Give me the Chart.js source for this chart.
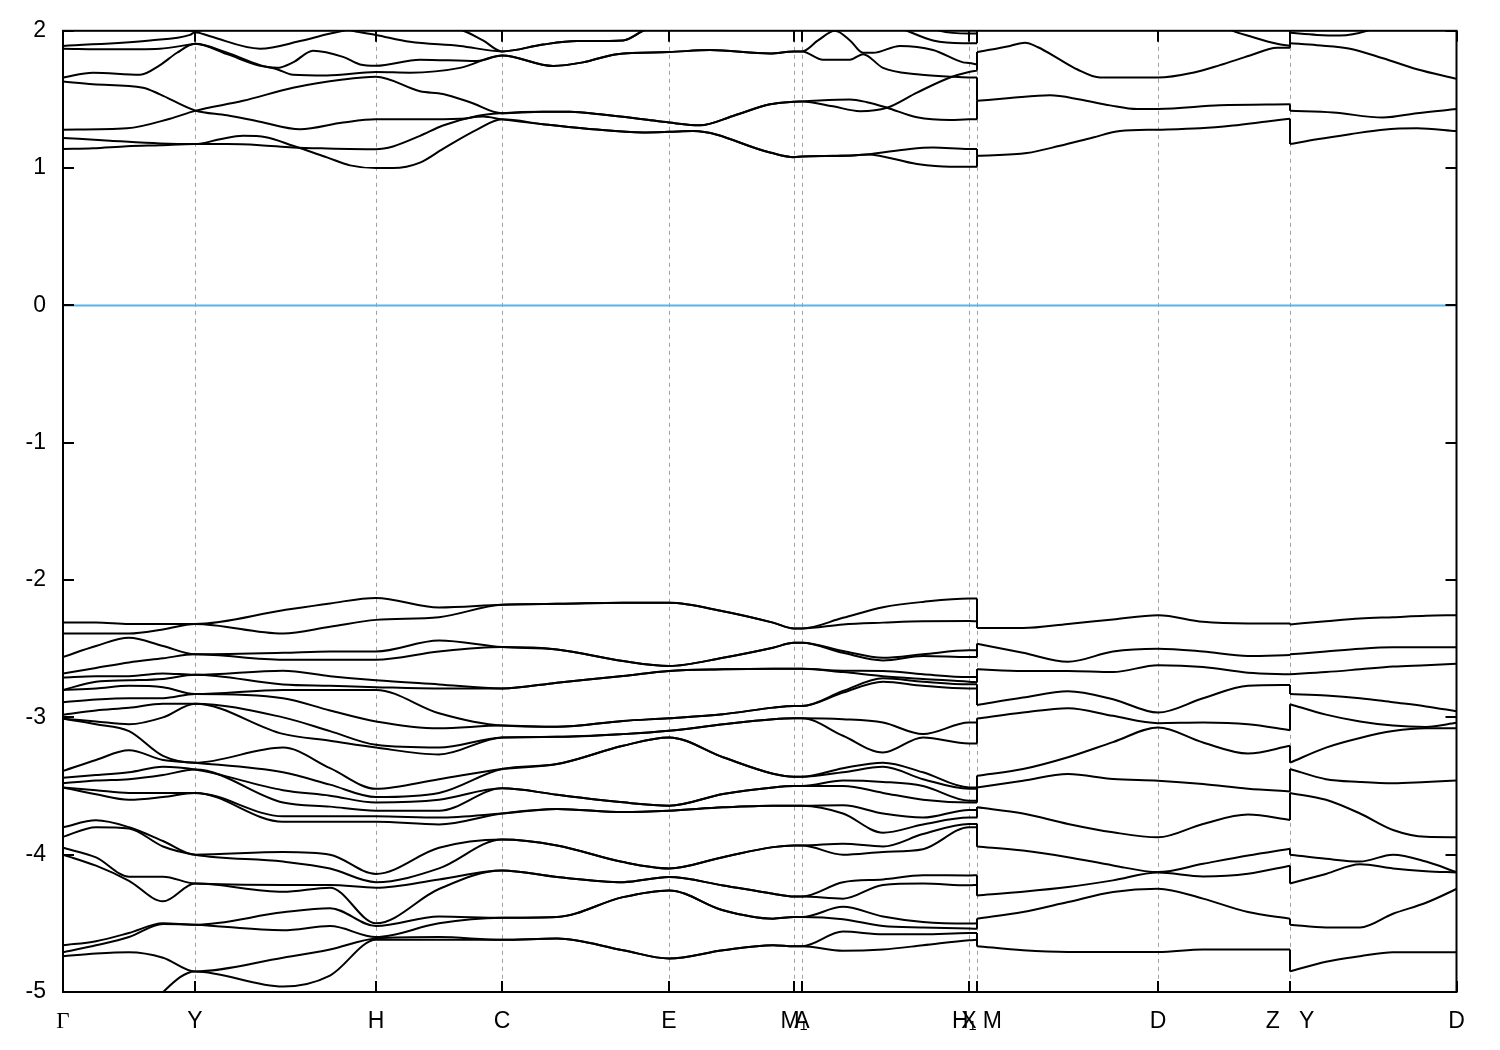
<!DOCTYPE html>
<html><head><meta charset="utf-8">
<script src="https://cdn.jsdelivr.net/npm/chart.js@4"></script>
<style>html,body{margin:0;padding:0;background:#fff}canvas{display:block}</style>
</head><body>
<canvas id="c" width="1500" height="1050" style="width:1500px;height:1050px"></canvas>
<script>
// ---- k-path (path distance, arbitrary units) ----
const kPos    = [0, 1.32, 3.13, 4.39, 6.06, 7.31, 7.39, 9.06, 9.14, 10.95, 12.27, 13.935];
const kLabels = ["Γ", "Y", "H", "C", "E", "M₁", "A", "X", "H₁ M", "D", "Z   Y", "D"];
const yTicks  = [-5, -4, -3, -2, -1, 0, 1, 2];
const fermi   = 0;

// ---- conduction bands, section Γ → H₁  ([k, E] in eV) ----
const cLowCA  = [[4.39,1.355],[4.80,1.32],[5.30,1.283],[5.80,1.26],[6.06,1.264],[6.30,1.27],[7.07,1.114],[7.31,1.08],[7.39,1.085]];
const cHighCA = [[4.39,1.40],[4.80,1.41],[5.07,1.41],[5.37,1.392],[5.80,1.356],[6.06,1.332],[6.37,1.312],[6.70,1.38],[7.07,1.465],[7.31,1.484],[7.39,1.486]];
const cTopCA  = [[4.39,1.82],[4.90,1.744],[5.20,1.77],[5.54,1.83],[6.06,1.845],[6.47,1.86],[7.07,1.835],[7.31,1.85],[7.39,1.85]];
const cTop2CA = [[4.39,1.85],[4.80,1.90],[5.14,1.925],[5.60,1.93],[5.80,2.0],[6.06,2.08],[7.0,2.2],[7.39,2.2]];

const c1Start = [[0,1.22],[0.47,1.20],[0.97,1.18],[1.32,1.175],[1.57,1.21],[1.80,1.235],[2.03,1.225],[2.30,1.163],[2.64,1.078],[2.87,1.02],[3.13,1.00],[3.30,1.00],[3.57,1.04],[3.80,1.14],[4.14,1.28]];
const c1End   = [[7.87,1.09],[8.04,1.10],[8.54,1.03],[8.87,1.01],[9.06,1.01],[9.14,1.01]];
const c2Start = [[0,1.14],[0.30,1.145],[0.64,1.16],[0.97,1.167],[1.32,1.175],[1.64,1.175],[1.97,1.167],[2.30,1.15],[2.64,1.143],[3.13,1.138],[3.30,1.158],[3.57,1.235],[3.80,1.31],[4.14,1.38]];
const c2End   = [[7.87,1.50],[8.04,1.48],[8.24,1.44],[8.54,1.37],[8.87,1.35],[9.06,1.355],[9.14,1.355]];
const c3Start = [[0,1.28],[0.64,1.29],[1.07,1.36],[1.32,1.417],[1.80,1.49],[2.30,1.585],[2.80,1.645],[3.13,1.665],[3.57,1.56],[3.80,1.54],[4.07,1.48]];
const c3End   = [[7.70,1.45],[7.97,1.415],[8.24,1.44],[8.54,1.55],[8.87,1.66],[9.06,1.70],[9.14,1.71]];
const c4Start = [[0,1.63],[0.30,1.61],[0.80,1.586],[0.97,1.537],[1.32,1.42],[1.64,1.385],[1.97,1.337],[2.37,1.283],[2.80,1.332],[3.13,1.356],[3.57,1.356],[3.97,1.36],[4.20,1.375]];
const c4End   = [[7.70,1.09],[8.04,1.10],[8.47,1.14],[8.70,1.15],[9.06,1.14],[9.14,1.14]];
const c5Start = [[0,1.66],[0.30,1.695],[0.77,1.68],[0.97,1.75],[1.14,1.84],[1.32,1.905],[1.64,1.84],[1.97,1.75],[2.14,1.72],[2.30,1.68],[2.64,1.675],[3.13,1.70],[3.47,1.695],[3.97,1.73]];
const c5End   = [[7.60,1.79],[7.87,1.79],[8.00,1.83],[8.20,1.73],[8.54,1.683],[8.87,1.666],[9.06,1.66],[9.14,1.66]];
const c6Start = [[0,1.87],[0.47,1.865],[0.97,1.87],[1.27,1.90],[1.32,1.905],[1.64,1.83],[1.97,1.745],[2.14,1.73],[2.30,1.77],[2.50,1.855],[2.80,1.81],[2.97,1.755],[3.13,1.745],[3.57,1.79],[4.14,1.78]];
const c6End   = [[7.55,1.93],[7.72,2.0],[7.87,1.93],[8.00,1.84],[8.10,1.84],[8.37,1.89],[8.70,1.86],[9.00,1.77],[9.06,1.765],[9.14,1.755]];
const c7Start = [[0,1.89],[0.87,1.93],[1.27,1.97],[1.32,1.99],[1.47,1.96],[1.97,1.87],[2.37,1.925],[2.64,1.975],[2.80,2.0],[3.13,2.06],[3.57,2.04],[3.97,2.01],[4.20,1.93]];
const c7End   = [[8.0,2.12],[8.44,2.0],[8.70,1.93],[9.0,1.91],[9.06,1.91],[9.14,1.91]];
const c8Start = [[0,2.05],[0.7,2.03],[1.32,2.0],[1.7,2.05],[2.5,2.1],[2.9,2.0],[3.13,1.97],[3.47,1.92],[3.97,1.89]];
const c8End   = [[8.3,2.15],[8.77,2.0],[9.06,1.98],[9.14,1.98]];

// ---- conduction bands, section M → Z ----
const m1 = [[9.14,1.09],[9.64,1.11],[9.97,1.163],[10.30,1.223],[10.57,1.27],[10.95,1.28],[11.37,1.29],[11.70,1.31],[12.04,1.34],[12.27,1.36]];
const m2 = [[9.14,1.49],[9.47,1.51],[9.87,1.53],[10.17,1.50],[10.47,1.457],[10.74,1.43],[10.95,1.43],[11.57,1.457],[12.27,1.465]];
const m3 = [[9.14,1.845],[9.47,1.89],[9.62,1.913],[9.75,1.88],[9.97,1.79],[10.14,1.72],[10.37,1.66],[10.95,1.659],[11.30,1.695],[11.57,1.75],[11.87,1.82],[12.14,1.877],[12.27,1.877]];
const m4 = [[9.14,2.15],[9.64,2.05],[10.3,2.2],[10.95,2.25],[11.5,2.08],[11.70,2.0],[11.87,1.96],[12.14,1.905],[12.27,1.89]];
// ---- conduction bands, section Y → D ----
const y1 = [[12.27,1.175],[12.54,1.21],[12.87,1.247],[13.20,1.28],[13.54,1.29],[13.935,1.27]];
const y2 = [[12.27,1.417],[12.70,1.405],[13.20,1.368],[13.54,1.40],[13.935,1.43]];
const y3 = [[12.27,1.91],[12.54,1.895],[12.87,1.87],[13.20,1.80],[13.54,1.72],[13.935,1.65]];
const y4 = [[12.27,1.985],[12.54,1.97],[12.77,1.966],[13.04,2.0],[13.5,2.15],[13.935,2.25]];

// ---- valence bands: energies (eV) at sample k, listed from top to bottom ----
const vX1 = [0, 0.33, 0.66, 1.0, 1.32, 2.20, 2.67, 3.13, 3.76, 4.39, 4.94, 5.60, 6.06, 6.60, 7.10, 7.31, 7.39, 7.80, 8.20, 8.60, 9.06, 9.14];
const vCols1 = [
 [-2.31,-2.39,-2.56,-2.68,-2.71,-2.80,-2.80,-2.89,-2.98,-3.01,-3.01,-3.39,-3.44,-3.48,-3.51,-3.51,-3.80,-3.87,-3.95,-4.00,-4.66,-4.71,-4.74,-5.30],
 [-2.31,-2.39,-2.48,-2.64,-2.70,-2.74,-2.79,-2.87,-2.95,-3.03,-3.05,-3.31,-3.42,-3.46,-3.53,-3.56,-3.75,-3.80,-4.02,-4.08,-4.63,-4.66,-4.72,-5.50],
 [-2.32,-2.39,-2.42,-2.60,-2.70,-2.73,-2.77,-2.86,-2.93,-3.05,-3.10,-3.24,-3.40,-3.45,-3.55,-3.60,-3.80,-3.81,-4.16,-4.19,-4.57,-4.60,-4.71,-5.30],
 [-2.32,-2.36,-2.48,-2.57,-2.68,-2.72,-2.78,-2.86,-2.90,-3.00,-3.28,-3.31,-3.36,-3.42,-3.55,-3.58,-3.90,-3.94,-4.16,-4.34,-4.50,-4.505,-4.75,-5.00],
 [-2.32,-2.32,-2.54,-2.54,-2.69,-2.69,-2.83,-2.83,-2.90,-2.90,-3.33,-3.33,-3.38,-3.38,-3.55,-3.55,-4.00,-4.00,-4.21,-4.21,-4.51,-4.51,-4.85,-4.85],
 [-2.22,-2.39,-2.53,-2.58,-2.66,-2.76,-2.80,-2.86,-3.00,-3.12,-3.22,-3.40,-3.53,-3.62,-3.72,-3.76,-3.98,-4.05,-4.22,-4.27,-4.42,-4.55,-4.75,-4.96],
 [-2.17,-2.34,-2.52,-2.58,-2.70,-2.77,-2.80,-2.95,-3.10,-3.17,-3.37,-3.49,-3.57,-3.65,-3.72,-3.76,-4.00,-4.10,-4.22,-4.24,-4.39,-4.52,-4.69,-4.88],
 [-2.13,-2.29,-2.52,-2.58,-2.73,-2.78,-2.80,-3.03,-3.20,-3.22,-3.52,-3.58,-3.62,-3.68,-3.72,-3.76,-4.14,-4.20,-4.24,-4.50,-4.52,-4.60,-4.61,-4.62],
 [-2.20,-2.27,-2.44,-2.52,-2.76,-2.79,-2.97,-3.08,-3.22,-3.27,-3.45,-3.55,-3.60,-3.68,-3.73,-3.78,-3.95,-4.10,-4.18,-4.25,-4.45,-4.50,-4.60,-4.62],
 [-2.18,-2.18,-2.488,-2.488,-2.79,-2.79,-3.06,-3.06,-3.146,-3.146,-3.376,-3.376,-3.517,-3.517,-3.70,-3.70,-3.89,-3.89,-4.115,-4.115,-4.46,-4.46,-4.62,-4.62],
 [-2.173,-2.173,-2.505,-2.505,-2.747,-2.747,-3.069,-3.069,-3.142,-3.142,-3.34,-3.34,-3.563,-3.563,-3.667,-3.667,-3.933,-3.933,-4.163,-4.163,-4.454,-4.454,-4.611,-4.611],
 [-2.166,-2.166,-2.59,-2.59,-2.699,-2.699,-3.026,-3.026,-3.122,-3.122,-3.207,-3.207,-3.619,-3.619,-3.69,-3.69,-4.054,-4.054,-4.20,-4.20,-4.309,-4.309,-4.696,-4.696],
 [-2.166,-2.166,-2.626,-2.626,-2.662,-2.662,-3.006,-3.006,-3.098,-3.098,-3.146,-3.146,-3.643,-3.643,-3.68,-3.68,-4.10,-4.10,-4.163,-4.163,-4.26,-4.26,-4.756,-4.756],
 [-2.227,-2.227,-2.566,-2.566,-2.65,-2.65,-2.977,-2.977,-3.05,-3.05,-3.29,-3.29,-3.558,-3.558,-3.655,-3.655,-4.018,-4.018,-4.224,-4.224,-4.405,-4.405,-4.696,-4.696],
 [-2.31,-2.31,-2.493,-2.493,-2.646,-2.646,-2.929,-2.929,-3.013,-3.013,-3.41,-3.41,-3.51,-3.51,-3.643,-3.643,-3.945,-3.945,-4.284,-4.284,-4.466,-4.466,-4.659,-4.659],
 [-2.352,-2.352,-2.457,-2.457,-2.646,-2.646,-2.917,-2.917,-3.006,-3.006,-3.432,-3.432,-3.50,-3.50,-3.643,-3.643,-3.933,-3.933,-4.304,-4.304,-4.454,-4.454,-4.667,-4.667],
 [-2.352,-2.352,-2.457,-2.457,-2.646,-2.646,-2.917,-2.917,-3.006,-3.006,-3.432,-3.432,-3.50,-3.50,-3.643,-3.643,-3.933,-3.933,-4.304,-4.304,-4.454,-4.454,-4.667,-4.667],
 [-2.275,-2.323,-2.517,-2.53,-2.66,-2.67,-2.808,-2.82,-3.013,-3.134,-3.37,-3.40,-3.46,-3.50,-3.64,-3.70,-3.92,-4.00,-4.20,-4.32,-4.38,-4.47,-4.56,-4.70],
 [-2.198,-2.31,-2.566,-2.585,-2.662,-2.70,-2.715,-2.74,-3.038,-3.256,-3.33,-3.36,-3.47,-3.55,-3.70,-3.84,-3.94,-3.98,-4.18,-4.22,-4.45,-4.52,-4.58,-4.69],
 [-2.159,-2.30,-2.541,-2.553,-2.686,-2.72,-2.74,-2.77,-3.122,-3.146,-3.40,-3.45,-3.50,-3.60,-3.73,-3.78,-3.85,-3.96,-4.15,-4.21,-4.49,-4.53,-4.58,-4.66],
 [-2.134,-2.299,-2.512,-2.561,-2.706,-2.74,-2.759,-2.79,-3.038,-3.19,-3.51,-3.52,-3.607,-3.62,-3.674,-3.73,-3.776,-3.80,-4.151,-4.223,-4.502,-4.538,-4.57,-4.623],
 [-2.134,-2.30,-2.512,-2.56,-2.706,-2.745,-2.759,-2.79,-3.038,-3.19,-3.51,-3.52,-3.607,-3.62,-3.674,-3.73,-3.776,-3.80,-4.15,-4.22,-4.50,-4.54,-4.57,-4.62]
];
const vX2 = [9.14, 9.60, 10.05, 10.50, 10.95, 11.40, 11.85, 12.27];
const vCols2 = [
 [-2.35,-2.464,-2.65,-2.91,-3.009,-3.425,-3.51,-3.655,-3.94,-4.297,-4.466,-4.666],
 [-2.35,-2.53,-2.662,-2.856,-2.965,-3.376,-3.461,-3.70,-3.97,-4.27,-4.418,-4.696],
 [-2.32,-2.595,-2.662,-2.81,-2.933,-3.29,-3.413,-3.776,-4.018,-4.236,-4.345,-4.708],
 [-2.287,-2.52,-2.67,-2.868,-2.989,-3.18,-3.449,-3.837,-4.078,-4.187,-4.272,-4.708],
 [-2.256,-2.50,-2.62,-2.965,-3.042,-3.074,-3.461,-3.873,-4.127,-4.13,-4.248,-4.708],
 [-2.304,-2.52,-2.633,-2.861,-3.038,-3.183,-3.485,-3.776,-4.066,-4.158,-4.32,-4.69],
 [-2.316,-2.553,-2.675,-2.77,-3.05,-3.263,-3.52,-3.708,-4.006,-4.139,-4.418,-4.69],
 [-2.316,-2.546,-2.686,-2.764,-3.093,-3.207,-3.539,-3.747,-3.957,-4.08,-4.466,-4.69]
];
const vX3 = [12.27, 12.63, 12.97, 13.30, 13.63, 13.935];
const vCols3 = [
 [-2.323,-2.541,-2.686,-2.83,-2.904,-3.33,-3.376,-3.55,-4.00,-4.21,-4.51,-4.85],
 [-2.30,-2.52,-2.67,-2.84,-2.98,-3.22,-3.45,-3.60,-4.03,-4.14,-4.53,-4.78],
 [-2.28,-2.50,-2.65,-2.86,-3.03,-3.15,-3.47,-3.70,-4.05,-4.07,-4.53,-4.74],
 [-2.27,-2.49,-2.63,-2.89,-3.06,-3.10,-3.48,-3.82,-4.00,-4.10,-4.43,-4.71],
 [-2.26,-2.49,-2.62,-2.92,-3.07,-3.08,-3.47,-3.87,-4.05,-4.12,-4.35,-4.71],
 [-2.256,-2.49,-2.609,-2.955,-3.04,-3.08,-3.46,-3.873,-4.127,-4.13,-4.25,-4.71]
];

// ---- build curves ----
const P = a => a.map(p => ({x: p[0], y: p[1]}));
const cSec1 = [
  [...c1Start, ...cLowCA,  ...c1End], [...c2Start, ...cHighCA, ...c2End],
  [...c3Start, ...cHighCA, ...c3End], [...c4Start, ...cLowCA,  ...c4End],
  [...c5Start, ...cTopCA,  ...c5End], [...c6Start, ...cTopCA,  ...c6End],
  [...c7Start, ...cTop2CA, ...c7End], [...c8Start, ...cTop2CA, ...c8End]
].map(P);
const cSec2 = [m1, m2, m3, m4].map(P);
const cSec3 = [y1, y2, y3, y4].map(P);
function fromCols(xs, cols){
  const n = cols[0].length, out = [];
  for (let b = 0; b < n; b++) out.push(xs.map((x, i) => ({x, y: cols[i][b]})));
  return out;
}
const vSec1 = fromCols(vX1, vCols1), vSec2 = fromCols(vX2, vCols2), vSec3 = fromCols(vX3, vCols3);

const datasets = [];
const bandStyle = {borderColor:'#000', borderWidth:2, pointRadius:0, fill:false, cubicInterpolationMode:'monotone'};
const jumpStyle = {borderColor:'#000', borderWidth:2, pointRadius:0, fill:false, tension:0};
function addGroup(s1, s2, s3){
  const last = c => c[c.length-1].y, first = c => c[0].y;
  const a = s1.slice().sort((p,q) => last(q) - last(p));
  const b = s2.slice().sort((p,q) => first(q) - first(p));
  const bEnd = s2.slice().sort((p,q) => last(q) - last(p));
  const c = s3.slice().sort((p,q) => first(q) - first(p));
  a.forEach((cur, i) => {
    datasets.push({...bandStyle, data: cur});
    const nx = b[Math.floor(i/2)], e = cur[cur.length-1];
    datasets.push({...jumpStyle, data: [{x:e.x, y:e.y}, {x:nx[0].x, y:nx[0].y}]});
  });
  b.forEach(cur => datasets.push({...bandStyle, data: cur}));
  bEnd.forEach((cur, j) => {
    const e = cur[cur.length-1], nx = c[j];
    datasets.push({...jumpStyle, data: [{x:e.x, y:e.y}, {x:nx[0].x, y:nx[0].y}]});
  });
  c.forEach(cur => datasets.push({...bandStyle, data: cur}));
}
addGroup(cSec1, cSec2, cSec3);
addGroup(vSec1, vSec2, vSec3);
datasets.unshift({borderColor:'#56b4e9', borderWidth:2, pointRadius:0, fill:false, tension:0,
  data:[{x:kPos[0], y:fermi},{x:kPos[kPos.length-1], y:fermi}]});

const decor = {
  id: 'decor',
  beforeDatasetsDraw(chart){
    const {ctx, chartArea:a, scales:{x}} = chart;
    ctx.save();
    ctx.strokeStyle = '#a0a0a0'; ctx.lineWidth = 1; ctx.setLineDash([4,4]);
    kPos.forEach(v => {
      const px = Math.round(x.getPixelForValue(v)) + 0.5;
      if (px > a.left + 2 && px < a.right - 2){ ctx.beginPath(); ctx.moveTo(px, a.top); ctx.lineTo(px, a.bottom); ctx.stroke(); }
    });
    ctx.restore();
  },
  afterDatasetsDraw(chart){
    const {ctx, chartArea:a, scales:{x, y}} = chart;
    ctx.save();
    ctx.strokeStyle = '#000'; ctx.lineWidth = 2; ctx.setLineDash([]);
    ctx.strokeRect(a.left, a.top, a.right - a.left, a.bottom - a.top);
    ctx.beginPath();
    kPos.forEach(v => {
      const px = Math.round(x.getPixelForValue(v));
      ctx.moveTo(px, a.bottom); ctx.lineTo(px, a.bottom - 11);
      ctx.moveTo(px, a.top); ctx.lineTo(px, a.top + 11);
    });
    yTicks.forEach(v => {
      const py = Math.round(y.getPixelForValue(v));
      ctx.moveTo(a.left, py); ctx.lineTo(a.left + 11, py);
      ctx.moveTo(a.right, py); ctx.lineTo(a.right - 11, py);
    });
    ctx.stroke();
    ctx.restore();
  }
};

Chart.defaults.font.family = "'Liberation Sans', Arial, sans-serif";
Chart.defaults.color = '#000';
new Chart(document.getElementById('c'), {
  type: 'line',
  data: {datasets},
  options: {
    responsive: false, animation: false, devicePixelRatio: 1,
    layout: {padding: {left: 0, right: 43.5, top: 28, bottom: 0}},
    plugins: {legend: {display: false}, tooltip: {enabled: false}},
    elements: {line: {capBezierPoints: true}},
    scales: {
      x: {
        type: 'linear', min: kPos[0], max: kPos[kPos.length-1],
        grid: {display: false, drawTicks: false}, border: {display: false},
        afterBuildTicks: s => { s.ticks = kPos.map(v => ({value: v})); },
        afterFit: s => { s.height = 58; },
        ticks: {
          autoSkip: false, maxRotation: 0, minRotation: 0, padding: 16, color: '#000',
          font: ctx => ({family: ctx.index === 0 ? "'Liberation Serif', 'DejaVu Serif', serif" : "'Liberation Sans', Arial, sans-serif", size: 23}),
          callback: (v, i) => kLabels[i]
        }
      },
      y: {
        type: 'linear', min: yTicks[0], max: yTicks[yTicks.length-1],
        grid: {display: false, drawTicks: false}, border: {display: false},
        afterBuildTicks: s => { s.ticks = yTicks.map(v => ({value: v})); },
        afterFit: s => { s.width = 63; },
        ticks: {padding: 17, color: '#000', font: {size: 23}, callback: v => String(v)}
      }
    }
  },
  plugins: [decor]
});
</script>
</body></html>
